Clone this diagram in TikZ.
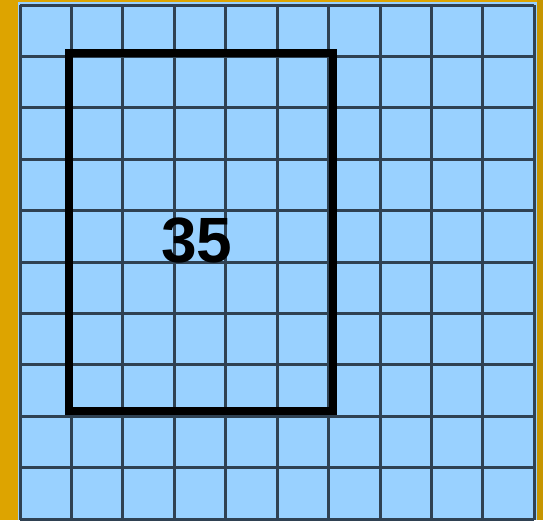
\documentclass[tikz,border=0pt]{standalone}
\usepackage{fontspec}
\usetikzlibrary{positioning}
\newfontfamily\numfont{Liberation Sans}
\definecolor{frameorange}{HTML}{DDA400}
\definecolor{frameorangedk}{HTML}{C69500}
\definecolor{cellblue}{HTML}{99D1FF}
\definecolor{gridslate}{HTML}{2F4152}
\tikzset{
  gline/.style   = {draw=gridslate, line width=3pt},
  areabox/.style = {draw=black, line width=8pt},
  count/.style   = {font=\numfont\bfseries\fontsize{64}{64}\selectfont, inner sep=0pt},
}
\begin{document}
\begin{tikzpicture}[x=1pt,y=-1pt]
  \useasboundingbox (0,0) rectangle (543,520);
  % frame and sheet
  \fill[frameorange] (0,0) rectangle (543,520);
  \fill[frameorangedk] (537,0) rectangle (543,520);
  \fill[cellblue] (18,2) rectangle (537,520);
  % unit grid
  \foreach \i in {0,...,10} {
    \draw[gline] (20+\i*51.43,5) -- (20+\i*51.43,520);
    \draw[gline] (20,5+\i*51.4) -- (534.3,5+\i*51.4);
  }
  % 5 by 7 block
  \draw[areabox] (68.5,53) rectangle (332.5,411);
  \node[count] (area) at (197,241) {35};
\end{tikzpicture}
\end{document}
